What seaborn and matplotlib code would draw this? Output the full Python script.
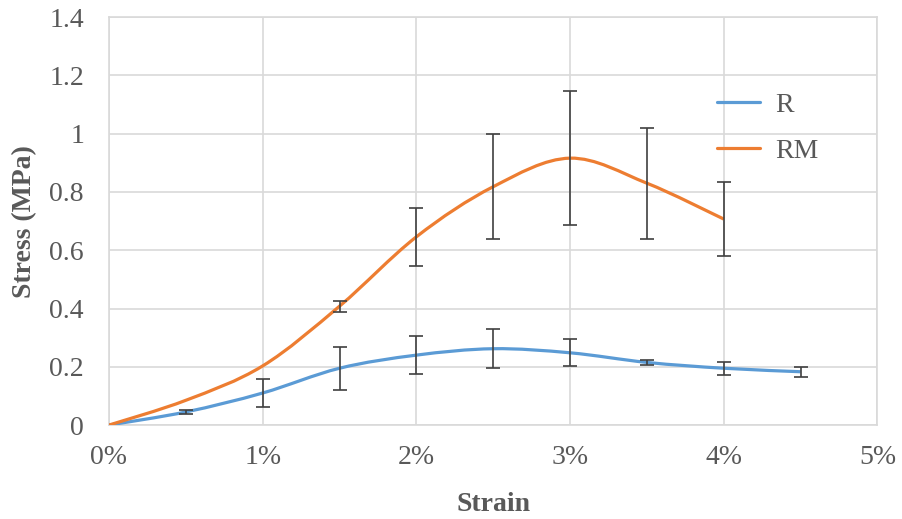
import numpy as np
import matplotlib
matplotlib.use('Agg')
import matplotlib.pyplot as plt
from matplotlib.path import Path
from matplotlib.patches import PathPatch
from matplotlib.lines import Line2D
from matplotlib.ticker import PercentFormatter
import seaborn as sns

# Values
strain_r = [0.0, 0.005, 0.01, 0.015, 0.02, 0.025, 0.03, 0.035, 0.04, 0.045]
stress_r = [0.0, 0.045, 0.11, 0.195, 0.24, 0.262, 0.248, 0.215, 0.195, 0.183]
err_r = [0.0, 0.008, 0.047, 0.073, 0.064, 0.067, 0.047, 0.01, 0.022, 0.017]

strain_rm = [0.0, 0.005, 0.01, 0.015, 0.02, 0.025, 0.03, 0.035, 0.04]
stress_rm = [0.0, 0.085, 0.203, 0.408, 0.646, 0.818, 0.916, 0.83, 0.707]
err_rm = [0.0, 0.0, 0.0, 0.019, 0.099, 0.18, 0.23, 0.19, 0.128]

series_names = ['R', 'RM']
series_colors = ['#5B9BD5', '#ED7D31']

sns.set_theme(style='whitegrid')
plt.rcParams['font.family'] = ['Liberation Serif', 'DejaVu Serif']


def smooth_path(xs, ys):
    # Excel-style smoothed line: Catmull-Rom segments as cubic Bezier curves
    pts = np.column_stack([xs, ys])
    n = len(pts)
    verts = [pts[0]]
    codes = [Path.MOVETO]
    for i in range(n - 1):
        p0 = pts[max(i - 1, 0)]
        p1 = pts[i]
        p2 = pts[i + 1]
        p3 = pts[min(i + 2, n - 1)]
        verts += [p1 + (p2 - p0) / 6, p2 - (p3 - p1) / 6, p2]
        codes += [Path.CURVE4] * 3
    return Path(verts, codes)


fig = plt.figure(figsize=(9.03, 5.19), dpi=100)
ax = fig.add_axes([0.1207, 0.181, 0.851, 0.786])

data = [(strain_r, stress_r, err_r), (strain_rm, stress_rm, err_rm)]
for (xs, ys, es), color in zip(data, series_colors):
    ax.add_patch(PathPatch(smooth_path(xs, ys), facecolor='none',
                           edgecolor=color, lw=2.3, zorder=3))
    # only points that carry an error bar
    xe = np.array(xs)
    ye = np.array(ys)
    ee = np.array(es)
    keep = ee > 0
    ax.errorbar(xe[keep], ye[keep], yerr=ee[keep], fmt='none', ecolor='#404040',
                elinewidth=1.2, capsize=5, capthick=1.2, zorder=4)

ax.set_xlim(0, 0.05)
ax.set_ylim(0, 1.4)
ax.set_xticks(np.arange(0, 0.051, 0.01))
ax.set_yticks(np.arange(0, 1.41, 0.2))
ax.xaxis.set_major_formatter(PercentFormatter(1.0, decimals=0))
ax.set_yticklabels(['0', '0.2', '0.4', '0.6', '0.8', '1', '1.2', '1.4'])
ax.tick_params(axis='both', labelsize=20, colors='#595959', length=0)
ax.tick_params(axis='y', pad=18)
ax.tick_params(axis='x', pad=14)
ax.grid(True, color='#D9D9D9', lw=1.2)
for s in ax.spines.values():
    s.set_visible(True)
    s.set_color('#D9D9D9')
    s.set_linewidth(1.2)

ax.set_xlabel('Strain', fontsize=20, fontweight='bold', color='#595959', labelpad=16)
ax.set_ylabel('Stress (MPa)', fontsize=20, fontweight='bold', color='#595959', labelpad=9)

handles = [Line2D([0], [0], color=c, lw=2.3) for c in series_colors]
fig.legend(handles, series_names, loc='upper left', bbox_to_anchor=(0.766, 0.87),
           frameon=False, fontsize=20, handlelength=1.55, labelspacing=0.75,
           labelcolor='#595959', handletextpad=0.55)

fig.savefig('out.png', dpi=100)
